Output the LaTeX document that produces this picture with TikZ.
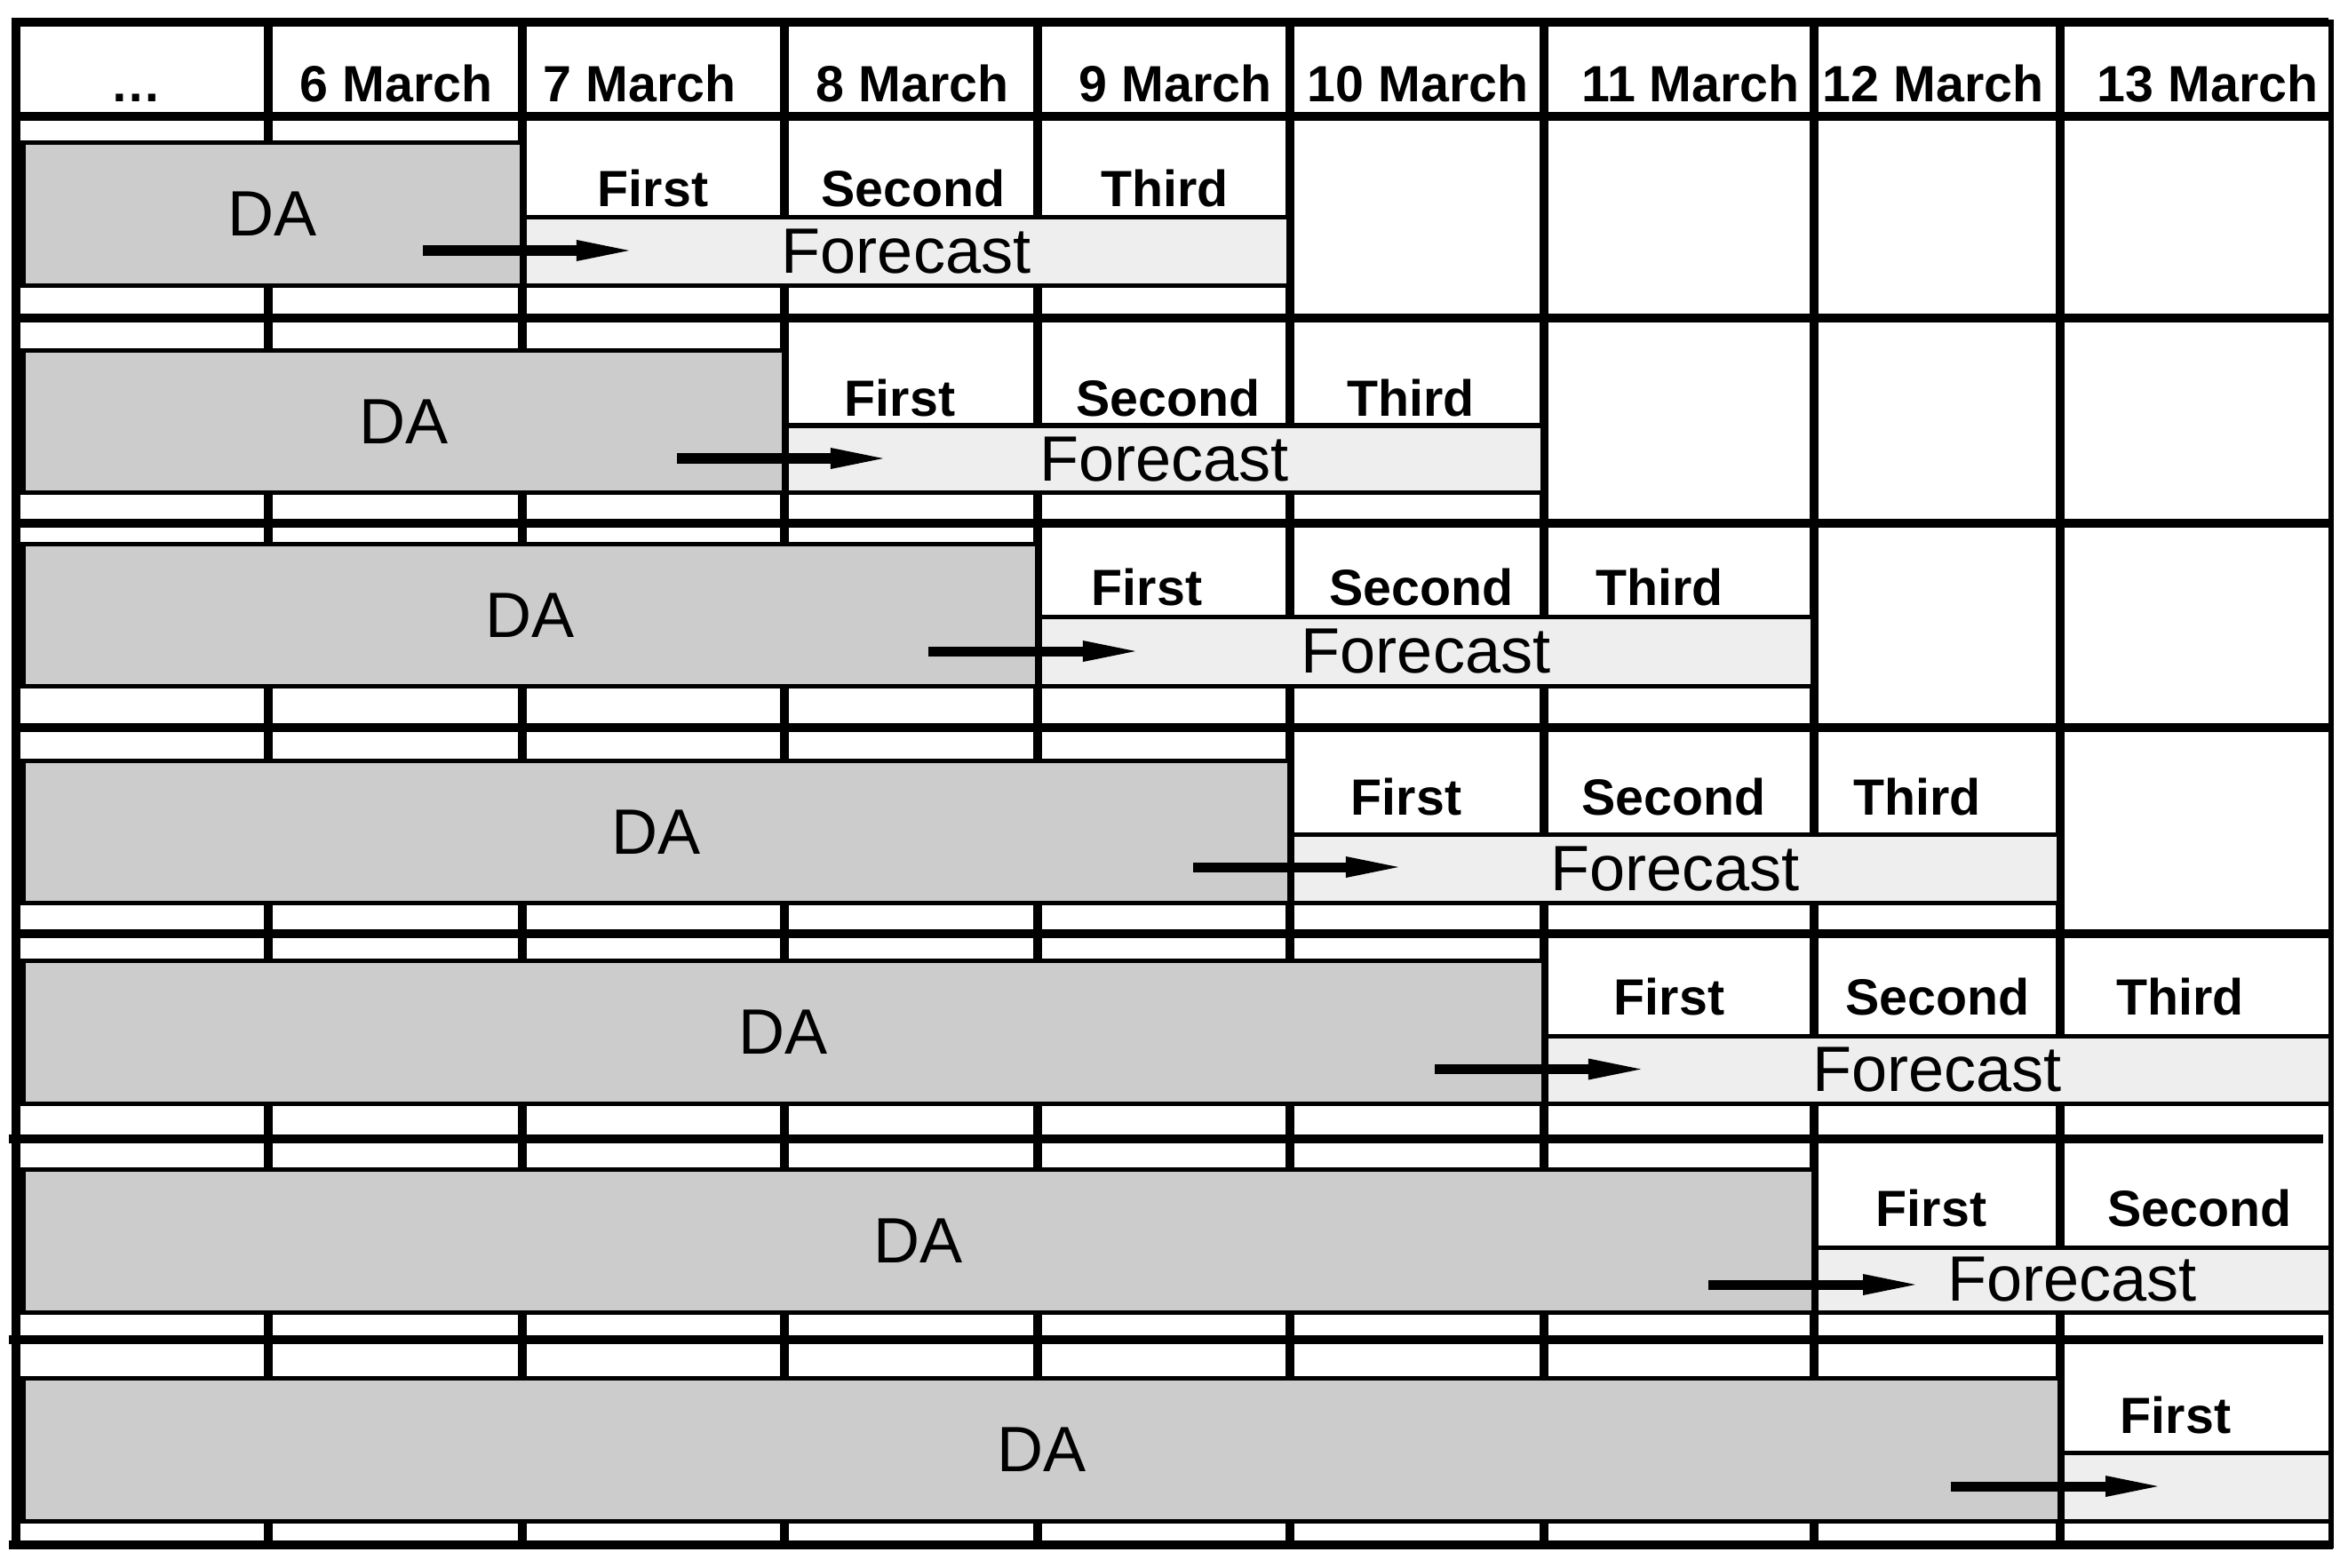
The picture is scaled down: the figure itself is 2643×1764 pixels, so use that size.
\documentclass[tikz,border=0pt]{standalone}
\usepackage{fontspec}
\setmainfont{Liberation Sans}
\usetikzlibrary{arrows.meta}
\definecolor{dagray}{HTML}{CCCCCC}
\definecolor{fcgray}{HTML}{EEEEEE}
\begin{document}
\begin{tikzpicture}[x=0.01cm,y=-0.01cm,
  sepline/.style={line width=0.1cm},
  colline/.style={line width=0.1cm},
  dabox/.style={fill=dagray,draw=black,line width=0.05cm},
  fcbox/.style={fill=fcgray,draw=black,line width=0.05cm},
  hdr/.style={font=\fontsize{16.3pt}{18pt}\selectfont\bfseries,anchor=base,inner sep=0pt},
  lbl/.style={font=\fontsize{16.3pt}{18pt}\selectfont\bfseries,anchor=base,inner sep=0pt},
  bigtxt/.style={font=\fontsize{20.5pt}{24pt}\selectfont,inner sep=0pt,anchor=center},
  arr/.style={line width=0.11cm,-{Triangle[length=0.59cm,width=0.24cm,line width=0pt]}},
]
\useasboundingbox (0,0) rectangle (2643,1764);

% column lines
\foreach \cx in {302,588,883,1168,1452,1738,2042,2319}
  \draw[colline] (\cx,25) -- (\cx,1738.5);

% DA boxes
\draw[dabox] (26,160.5) rectangle (588,321.5);
\draw[dabox] (26,394.5) rectangle (883,554.5);
\draw[dabox] (26,612) rectangle (1168,772.5);
\draw[dabox] (26,856) rectangle (1452,1016.5);
\draw[dabox] (26,1081.5) rectangle (1738,1242.5);
\draw[dabox] (26,1316.5) rectangle (2042,1477);
\draw[dabox] (26,1551.5) rectangle (2319,1712);

% Forecast boxes
\draw[fcbox] (588,245) rectangle (1450,321.5);
\draw[fcbox] (883,479) rectangle (1736,554.5);
\draw[fcbox] (1168,694.5) rectangle (2040,772.5);
\draw[fcbox] (1452,939) rectangle (2317,1016.5);
\draw[fcbox] (1738,1166) rectangle (2623,1242.5);
\draw[fcbox] (2042,1404) rectangle (2623,1477);
\draw[fcbox] (2319,1635) rectangle (2623,1712);

% boundary between DA and forecast
\draw[line width=0.08cm] (589,160.5) -- (589,321.5);
\draw[line width=0.08cm] (884,394.5) -- (884,554.5);
\draw[line width=0.08cm] (1169,612) -- (1169,772.5);
\draw[line width=0.08cm] (1453,856) -- (1453,1016.5);
\draw[line width=0.08cm] (1739,1081.5) -- (1739,1242.5);
\draw[line width=0.08cm] (2043,1316.5) -- (2043,1477);
\draw[line width=0.08cm] (2320,1551.5) -- (2320,1712);

% horizontal separators
\draw[sepline] (18,131) -- (2623,131);
\foreach \sy in {358,589,818.5,1051}
  \draw[sepline] (18,\sy) -- (2623,\sy);
\draw[sepline] (10,1281.5) -- (2615,1281.5);
\draw[sepline] (10,1507.5) -- (2615,1507.5);

% frame
\draw[sepline] (14,25) -- (2621,25);
\draw[sepline] (10,1738.5) -- (2626,1738.5);
\draw[line width=0.09cm] (18,20) -- (18,1743);
\draw[line width=0.06cm] (2623.5,22) -- (2623.5,1743);

% header
\node[hdr] (h0) at (153,115) {…};
\node[hdr] (h1) at (446,115) {6 March};
\node[hdr] (h2) at (720,115) {7 March};
\node[hdr] (h3) at (1027,115) {8 March};
\node[hdr] (h4) at (1323,115) {9 March};
\node[hdr] (h5) at (1596,115) {10 March};
\node[hdr] (h6) at (1903,115) {11 March};
\node[hdr] (h7) at (2176,115) {12 March};
\node[hdr] (h8) at (2485,115) {13 March};

% DA texts
\node[bigtxt] (da1) at (307,241) {DA};
\node[bigtxt] (da2) at (454.5,474.5) {DA};
\node[bigtxt] (da3) at (597,692.25) {DA};
\node[bigtxt] (da4) at (739,936.25) {DA};
\node[bigtxt] (da5) at (882,1162) {DA};
\node[bigtxt] (da6) at (1034,1396.75) {DA};
\node[bigtxt] (da7) at (1172.5,1631.75) {DA};

% Forecast texts
\node[bigtxt] (fc1) at (1020,283.25) {Forecast};
\node[bigtxt] (fc2) at (1310.5,516.75) {Forecast};
\node[bigtxt] (fc3) at (1605,733.5) {Forecast};
\node[bigtxt] (fc4) at (1885.5,977.75) {Forecast};
\node[bigtxt] (fc5) at (2180.5,1204.25) {Forecast};
\node[bigtxt] (fc6) at (2332.5,1440.5) {Forecast};

% labels
\node[lbl] (l11) at (735,232.6) {First};
\node[lbl] (l12) at (1028,232.6) {Second};
\node[lbl] (l13) at (1311,232.6) {Third};
\node[lbl] (l21) at (1013,468.6) {First};
\node[lbl] (l22) at (1315,468.6) {Second};
\node[lbl] (l23) at (1588,468.6) {Third};
\node[lbl] (l31) at (1291,681) {First};
\node[lbl] (l32) at (1600,681) {Second};
\node[lbl] (l33) at (1868,681) {Third};
\node[lbl] (l41) at (1583,917) {First};
\node[lbl] (l42) at (1884,917) {Second};
\node[lbl] (l43) at (2158,917) {Third};
\node[lbl] (l51) at (1879,1142) {First};
\node[lbl] (l52) at (2181,1142) {Second};
\node[lbl] (l53) at (2454,1142) {Third};
\node[lbl] (l61) at (2174,1380) {First};
\node[lbl] (l62) at (2476,1380) {Second};
\node[lbl] (l71) at (2449,1613) {First};

% arrows
\coordinate (as1) at (476,282);    \coordinate (ae1) at (708,282);
\coordinate (as2) at (762,516);    \coordinate (ae2) at (994,516);
\coordinate (as3) at (1045,733);   \coordinate (ae3) at (1278,733);
\coordinate (as4) at (1343,976);   \coordinate (ae4) at (1574,976);
\coordinate (as5) at (1615,1203.5);\coordinate (ae5) at (1847,1203.5);
\coordinate (as6) at (1923,1446);  \coordinate (ae6) at (2156,1446);
\coordinate (as7) at (2196,1673);  \coordinate (ae7) at (2429,1673);
\foreach \i in {1,...,7}
  \draw[arr] (as\i) -- (ae\i);
\end{tikzpicture}
\end{document}
